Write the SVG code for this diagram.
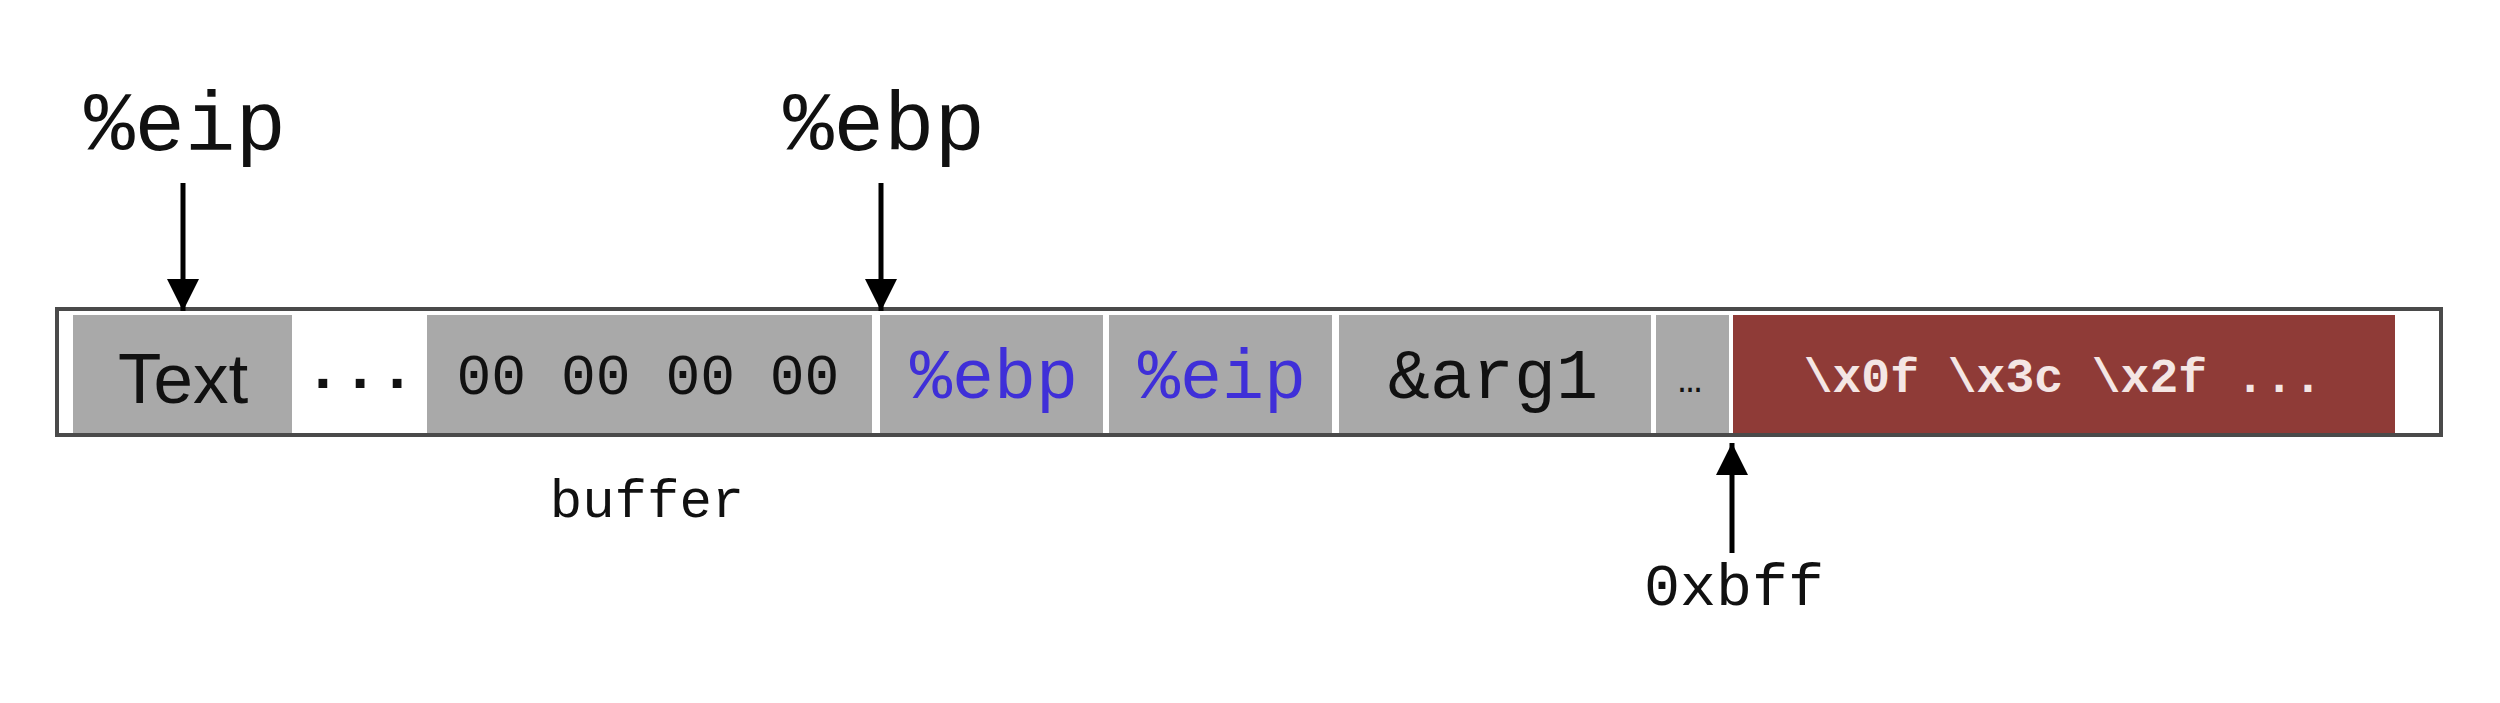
<svg xmlns="http://www.w3.org/2000/svg" width="2500" height="703" viewBox="0 0 2500 703">
  <style>
    .mono { font-family: "Liberation Mono", "Courier New", monospace; }
    .cell { fill: #a9a9a9; }
    .lbl { fill: #111; text-anchor: middle; }
    .blue { fill: #3f2fd8; text-anchor: middle; }
    .conn { stroke: #000; stroke-width: 5; fill: none; }
  </style>
  <defs>
    <marker id="ah" markerUnits="userSpaceOnUse" markerWidth="34" markerHeight="34" refX="32" refY="17" orient="auto">
      <path d="M0,1 L32,17 L0,33 z" fill="#000"/>
    </marker>
  </defs>
  <rect width="2500" height="703" fill="#ffffff"/>

  <g id="stack">
    <rect x="57" y="309" width="2384" height="126" fill="#ffffff" stroke="#4a4a4a" stroke-width="4"/>
  </g>
  <g id="cell-text">
    <rect class="cell" x="73" y="315" width="219" height="118"/>
    <text x="183" y="403" font-family="Liberation Sans, Arial, sans-serif" font-size="71" fill="#111" text-anchor="middle">Text</text>
  </g>
  <g id="cell-dots">
    <text class="mono lbl" x="360" y="388" font-size="62" font-weight="bold">...</text>
  </g>
  <g id="cell-buffer">
    <rect class="cell" x="427" y="315" width="445" height="118"/>
    <text class="mono lbl" x="648" y="394" font-size="58">00 00 00 00</text>
  </g>
  <g id="cell-ebp">
    <rect class="cell" x="880" y="315" width="223" height="118"/>
    <text class="mono blue" x="994" y="398" font-size="70">%ebp</text>
  </g>
  <g id="cell-eip">
    <rect class="cell" x="1109" y="315" width="223" height="118"/>
    <text class="mono blue" x="1222" y="398" font-size="70">%eip</text>
  </g>
  <g id="cell-arg1">
    <rect class="cell" x="1339" y="315" width="312" height="118"/>
    <text class="mono lbl" x="1493" y="398" font-size="70">&amp;arg1</text>
  </g>
  <g id="cell-ellipsis">
    <rect class="cell" x="1656" y="315" width="73" height="118"/>
    <text class="mono lbl" x="1690" y="392" font-size="40">…</text>
  </g>
  <g id="cell-payload">
    <rect x="1733" y="315" width="662" height="118" fill="#8f3b37"/>
    <text class="mono" x="2063" y="392" font-size="48" font-weight="bold" fill="#f4e6e4" text-anchor="middle">\x0f \x3c \x2f ...</text>
  </g>

  <g id="label-eip">
    <text class="mono lbl" x="185" y="150" font-size="84">%eip</text>
  </g>
  <g id="label-ebp">
    <text class="mono lbl" x="884" y="150" font-size="84">%ebp</text>
  </g>
  <g id="label-buffer">
    <text class="mono lbl" x="647" y="517" font-size="54">buffer</text>
  </g>
  <g id="label-0xbff">
    <text class="mono lbl" x="1734" y="605" font-size="60">0xbff</text>
  </g>

  <g id="connectors">
    <line class="conn" x1="183" y1="183" x2="183" y2="311" marker-end="url(#ah)"/>
    <line class="conn" x1="881" y1="183" x2="881" y2="311" marker-end="url(#ah)"/>
    <line class="conn" x1="1732" y1="553" x2="1732" y2="443" marker-end="url(#ah)"/>
  </g>
</svg>
